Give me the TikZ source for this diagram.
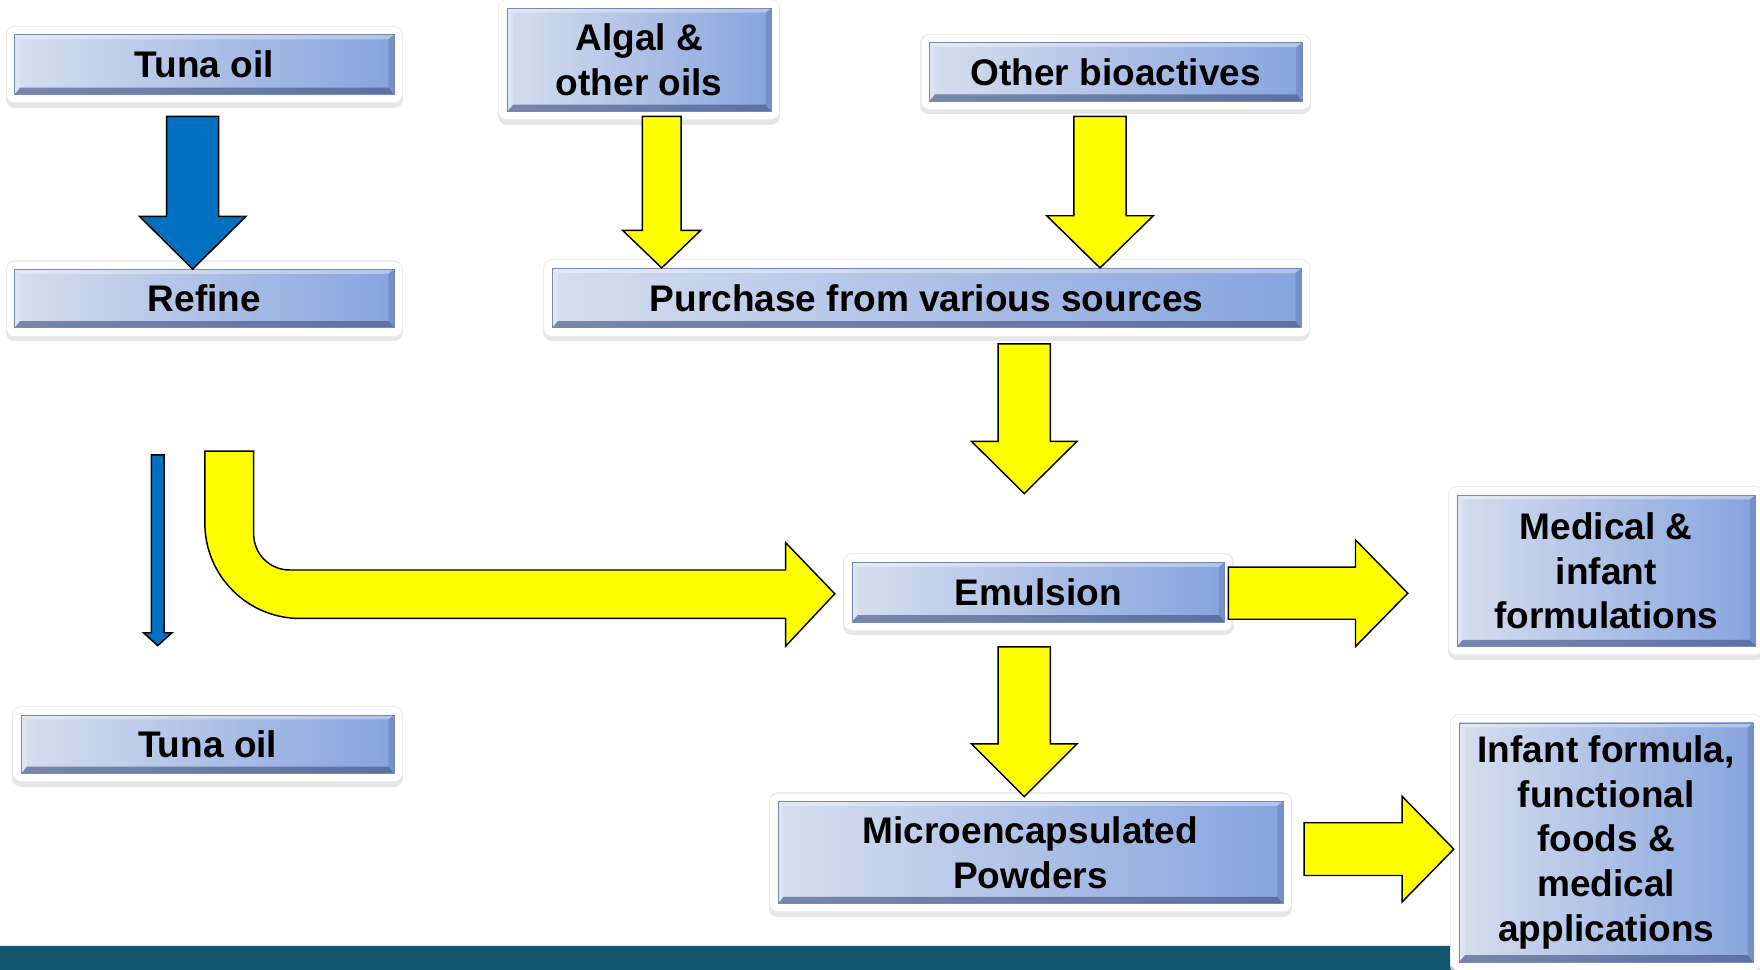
\documentclass[tikz,border=0pt]{standalone}
\usepackage{fontspec}
\setmainfont{Liberation Sans}
\usetikzlibrary{calc,shadows}

\definecolor{boxleft}{RGB}{214,222,238}
\definecolor{boxright}{RGB}{134,164,222}
\definecolor{boxedge}{RGB}{120,138,180}
\definecolor{bevellow}{RGB}{70,88,135}
\definecolor{arrowblue}{RGB}{0,112,192}
\definecolor{arrowyellow}{RGB}{255,255,0}
\definecolor{barteal}{RGB}{19,84,110}

\tikzset{
    procbox/.style={rectangle, inner sep=0pt, align=center, text=black,
        font=\fontsize{33}{40}\selectfont\bfseries,
        general shadow={shadow xshift=0pt, shadow yshift=-4pt, fill=black!12, draw=black!12, line width=16pt, line join=round, opacity=.8},
        preaction={draw=black!7, line width=16pt, line join=round},
        preaction={draw=white, line width=14pt, line join=round},
        left color=boxleft, right color=boxright,
        path picture={
            \coordinate (bsw) at (path picture bounding box.south west); \coordinate (bne) at (path picture bounding box.north east);
            \coordinate (bnw) at (path picture bounding box.north west); \coordinate (bse) at (path picture bounding box.south east);
            \fill[white, opacity=.35] (bnw) -- (bne) -- ([shift={(-5pt,-4pt)}]bne) -- ([shift={(5pt,-4pt)}]bnw) -- cycle;
            \fill[bevellow, opacity=.65] (bsw) -- (bse) -- ([shift={(-5pt,6pt)}]bse) -- ([shift={(5pt,6pt)}]bsw) -- cycle;
            \fill[white, opacity=.2] (bnw) -- (bsw) -- ([shift={(5pt,6pt)}]bsw) -- ([shift={(5pt,-4pt)}]bnw) -- cycle;
            \fill[bevellow, opacity=.25] (bne) -- (bse) -- ([shift={(-5pt,6pt)}]bse) -- ([shift={(-5pt,-4pt)}]bne) -- cycle;
        },
        draw=boxedge, line width=.6pt},
    % half shaft / half head / head length
    blockarrow/.style n args={3}{to path={
        ($(\tikztotarget)!#3!(\tikztostart)$) coordinate (neck)
        ($(\tikztostart)!#1!90:(\tikztotarget)$) -- ($(neck)!#1!90:(\tikztotarget)$) -- ($(neck)!#2!90:(\tikztotarget)$)
        -- (\tikztotarget) -- ($(neck)!#2!-90:(\tikztotarget)$) -- ($(neck)!#1!-90:(\tikztotarget)$) -- ($(\tikztostart)!#1!-90:(\tikztotarget)$) -- cycle}},
    yellowarrow/.style={fill=arrowyellow, draw=black, line width=1.3pt, line join=miter},
    bluearrow/.style={fill=arrowblue, draw=black, line width=1.3pt, line join=miter}
}

\begin{document}
\begin{tikzpicture}[x=1pt, y=-1pt]
    \useasboundingbox (0,0) rectangle (1568,864);
    \fill[barteal] (0,842) rectangle (1300,864);
    \draw[cyan!25, line width=1pt] (0,842.5) -- (1300,842.5);

    \node[procbox, minimum width=338pt, minimum height=53pt] (tuna) at (182,57.5) {Tuna oil};
    \node[procbox, minimum width=235pt, minimum height=92pt] (algal) at (569.5,53.3) {Algal \&\\other oils};
    \node[procbox, minimum width=332pt, minimum height=52pt] (bioact) at (994,64) {Other bioactives};
    \node[procbox, minimum width=338pt, minimum height=52pt] (refine) at (182,266) {Refine};
    \node[procbox, minimum width=667pt, minimum height=53pt] (purchase) at (825.5,265.5) {Purchase from various sources};
    \node[procbox, minimum width=332pt, minimum height=53pt] (emulsion) at (925,527.5) {Emulsion};
    \node[procbox, minimum width=266pt, minimum height=135pt] (medical) at (1431,508.5) {Medical \&\\infant\\formulations};
    \node[procbox, minimum width=332pt, minimum height=52pt] (tuna2) at (185,663) {Tuna oil};
    \node[procbox, minimum width=450pt, minimum height=91pt] (micro) at (918,759.5) {Microencapsulated\\Powders};
    \node[procbox, minimum width=262pt, minimum height=213pt] (infant) at (1431,750.5) {Infant formula,\\functional\\foods \&\\medical\\applications};

    \coordinate (tunadown) at ($(tuna.south)+(-10.3,19.4)$);
    \coordinate (algaldown) at ($(algal.south)+(20,4.1)$);
    \coordinate (bioactdown) at ($(bioact.south)+(-14,13.4)$);
    \coordinate (purchdown) at ($(purchase.south)+(87,14)$);
    \coordinate (emuldown) at ($(emulsion.south)+(-12.5,22)$);
    \coordinate (emulright) at ($(emulsion.east)+(3,1)$);
    \coordinate (microright) at ($(micro.east)+(18.5,-3)$);
    \coordinate (refinedown) at ($(refine.south)+(-41.5,113)$);
    \coordinate (refinetip) at (tunadown |- refine.north);
    \coordinate (algaltip) at (algaldown |- purchase.north);
    \coordinate (bioacttip) at (bioactdown |- purchase.north);
    \coordinate (purchtip) at ($(purchdown |- emulsion.north)+(0,-61)$);
    \coordinate (emultip) at ($(emuldown |- micro.north)+(0,-4)$);
    \coordinate (medtip) at ($(emulright -| medical.west)+(-43.5,0)$);
    \coordinate (infanttip) at ($(microright -| infant.west)+(-4.5,0)$);
    \coordinate (tuna2tip) at ($(refinedown |- tuna2.north)+(0,-61.5)$);
    \coordinate (bendtip) at ($(emulsion.west)+(-15,1.5)$);

    \draw[bluearrow, blockarrow={23.2pt}{47.5pt}{47pt}] (tunadown) to (refinetip);
    \draw[bluearrow, blockarrow={5.7pt}{12.7pt}{11.5pt}] (refinedown) to (tuna2tip);
    \draw[yellowarrow, blockarrow={17.3pt}{34.8pt}{33.5pt}] (algaldown) to (algaltip);
    \draw[yellowarrow, blockarrow={23.3pt}{47.5pt}{46.5pt}] (bioactdown) to (bioacttip);
    \draw[yellowarrow, blockarrow={23.3pt}{47pt}{46.5pt}] (purchdown) to (purchtip);
    \draw[yellowarrow, blockarrow={23.3pt}{47pt}{47pt}] (emuldown) to (emultip);
    \draw[yellowarrow, blockarrow={23.2pt}{47.5pt}{46.6pt}] (emulright) to (medtip);
    \draw[yellowarrow, blockarrow={23.5pt}{47pt}{46pt}] (microright) to (infanttip);
    % bent arrow into the emulsion
    \draw[yellowarrow] (182.5,402) -- (182.5,466) .. controls (182.5,513) and (220.5,551) .. (267.5,551) -- (700,551) -- (700,575.6) -- (bendtip)
        -- (700,483.5) -- (700,507.8) -- (258,507.8) .. controls (240.3,507.8) and (226,493.5) .. (226,475.8) -- (226,402) -- cycle;
\end{tikzpicture}
\end{document}
